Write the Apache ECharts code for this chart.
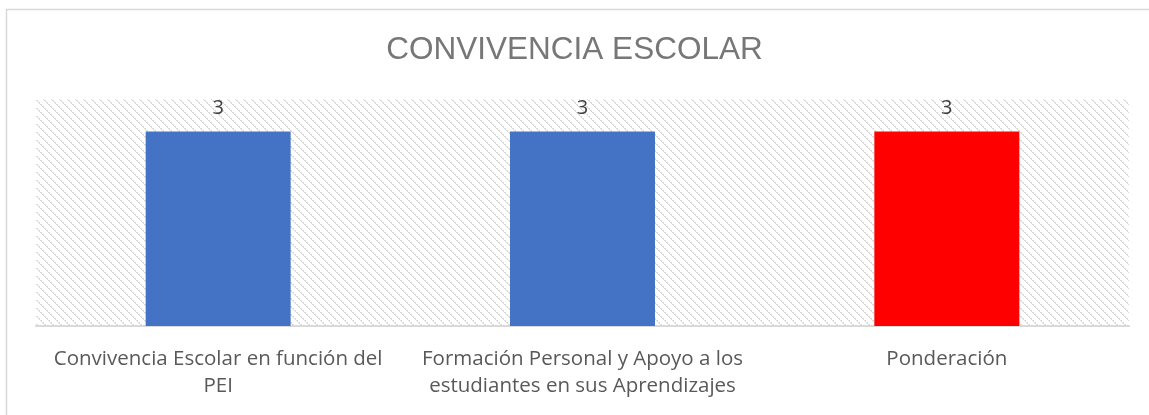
<!DOCTYPE html>
<html>
<head>
<meta charset="utf-8">
<script src="https://cdn.jsdelivr.net/npm/echarts@6/dist/echarts.min.js"></script>
<style>
  html, body { margin: 0; padding: 0; background: #fff; }
  #chart { width: 1149px; height: 415px; }
</style>
</head>
<body>
<div id="chart"></div>
<script>
// datos del gráfico
var categorias = [
  'Convivencia Escolar en función del\nPEI',
  'Formación Personal y Apoyo a los\nestudiantes en sus Aprendizajes',
  'Ponderación'
];
var valores = [3, 3, 3];
var colores = ['#4472C4', '#4472C4', '#FF0000'];

// trama diagonal del fondo
function trama() {
  var c = document.createElement('canvas');
  c.width = 8; c.height = 8;
  var ctx = c.getContext('2d');
  ctx.fillStyle = '#fff';
  ctx.fillRect(0, 0, 8, 8);
  ctx.fillStyle = '#dadada';
  for (var y = 0; y < 8; y++) {
    ctx.fillRect(y, y, 1, 1);
    if (y % 2 === 0) ctx.fillRect((y + 1) % 8, y, 1, 1);
  }
  return c;
}

var myChart = echarts.init(document.getElementById('chart'));
var option = {
  animation: false,
  title: {
    text: 'CONVIVENCIA ESCOLAR',
    left: 'center',
    top: 29,
    textStyle: {
      fontFamily: 'Liberation Sans',
      fontSize: 31.5,
      fontWeight: 'normal',
      color: '#777777'
    }
  },
  graphic: [{
    type: 'rect',
    shape: { x: 6.5, y: 9.5, width: 1160, height: 420 },
    style: { fill: null, stroke: '#d9d9d9', lineWidth: 1.5 },
    silent: true
  }],
  grid: {
    left: 36,
    right: 20,
    top: 99,
    bottom: 89,
    show: true,
    borderWidth: 0,
    backgroundColor: { image: trama(), repeat: 'repeat' }
  },
  xAxis: {
    type: 'category',
    data: categorias,
    axisLine: { lineStyle: { color: '#d9d9d9', width: 2 } },
    axisTick: { show: false },
    axisLabel: {
      interval: 0,
      margin: 20,
      fontFamily: 'Open Sans',
      fontSize: 20.5,
      lineHeight: 27,
      color: '#595959'
    }
  },
  yAxis: {
    type: 'value',
    min: 0,
    max: 3.5,
    show: false,
    splitLine: { show: false }
  },
  series: [{
    type: 'bar',
    barWidth: 145,
    data: valores.map(function(v, i) {
      return { value: v, itemStyle: { color: colores[i] } };
    }),
    label: {
      show: true,
      position: 'top',
      distance: 13,
      fontFamily: 'Open Sans',
      fontSize: 20,
      color: '#404040'
    }
  }]
};
myChart.setOption(option);
</script>
</body>
</html>
